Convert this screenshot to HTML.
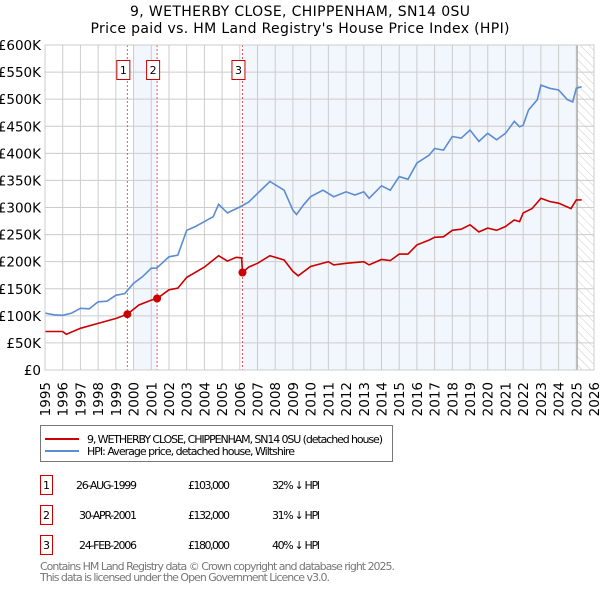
<!DOCTYPE html>
<html><head><meta charset="utf-8"><style>
body{margin:0;background:#fff;}
svg{display:block;font-family:"DejaVu Sans","Liberation Sans",sans-serif;}
</style></head><body>
<svg id="c" width="600" height="590" viewBox="0 0 600 590">
<text x="300" y="16" text-anchor="middle" font-size="14" textLength="340">9, WETHERBY CLOSE, CHIPPENHAM, SN14 0SU</text>
<text x="300" y="33" text-anchor="middle" font-size="14" textLength="419">Price paid vs. HM Land Registry's House Price Index (HPI)</text>
<defs><pattern id="hatch" width="6" height="6" patternUnits="userSpaceOnUse" patternTransform="rotate(-45)"><line x1="0" y1="0" x2="0" y2="6" stroke="#ccc" stroke-width="1"/></pattern></defs>
<g id="plot"></g>
<g>
<rect x="40.5" y="425.5" width="352" height="36" fill="#fff" stroke="#777"/>
<line x1="45" y1="439" x2="79" y2="439" stroke="#cc0000" stroke-width="2"/>
<text x="87" y="443" font-size="11" textLength="296">9, WETHERBY CLOSE, CHIPPENHAM, SN14 0SU (detached house)</text>
<line x1="45" y1="451" x2="79" y2="451" stroke="#5b8dd2" stroke-width="2"/>
<text x="87" y="455" font-size="11" textLength="208">HPI: Average price, detached house, Wiltshire</text>
</g>
<g font-size="11">
<rect x="40.5" y="475.5" width="12" height="19" fill="#fff" stroke="#cc0000"/><text x="46.5" y="489" text-anchor="middle">1</text>
<text x="76" y="489" textLength="61">26-AUG-1999</text><text x="188" y="489" textLength="42">£103,000</text><text x="272" y="489" textLength="48">32% ↓ HPI</text>
<rect x="40.5" y="505.5" width="12" height="19" fill="#fff" stroke="#cc0000"/><text x="46.5" y="519" text-anchor="middle">2</text>
<text x="79" y="519" textLength="58">30-APR-2001</text><text x="188" y="519" textLength="42">£132,000</text><text x="272" y="519" textLength="48">31% ↓ HPI</text>
<rect x="40.5" y="535.5" width="12" height="19" fill="#fff" stroke="#cc0000"/><text x="46.5" y="549" text-anchor="middle">3</text>
<text x="79" y="549" textLength="58">24-FEB-2006</text><text x="188" y="549" textLength="42">£180,000</text><text x="272" y="549" textLength="48">40% ↓ HPI</text>
</g>
<text x="40" y="570" font-size="11" fill="#777" textLength="355">Contains HM Land Registry data © Crown copyright and database right 2025.</text>
<text x="40" y="581" font-size="11" fill="#777" textLength="290">This data is licensed under the Open Government Licence v3.0.</text>
</svg>
<script>
const hpiYears=[1995,1995.5,1996,1996.5,1997,1997.5,1998,1998.5,1999,1999.5,2000,2000.5,2001,2001.3,2002,2002.5,2003,2003.5,2004,2004.5,2004.8,2005.3,2006,2006.5,2007,2007.7,2008.5,2009,2009.2,2009.6,2010,2010.7,2011.3,2012,2012.5,2013,2013.3,2014,2014.5,2015,2015.5,2016,2016.7,2017,2017.5,2018,2018.5,2019,2019.5,2020,2020.5,2021,2021.5,2021.8,2022,2022.3,2022.8,2023,2023.5,2024,2024.5,2024.8,2025,2025.3];
const hpiValues=[105,102,101,105,114,113,126,127,138,141,160,172,188,188,209,212,258,265,274,283,306,290,301,310,326,348,332,295,287,305,320,332,320,329,323,329,317,340,332,357,352,382,397,409,406,431,428,443,422,437,425,437,459,449,452,480,499,526,520,517,499,495,520,523];
const ppYears=[1995,1996,1996.2,1997,1998,1999,1999.65,2000.3,2001,2001.33,2002,2002.5,2003,2004,2004.8,2005.3,2005.8,2006.1,2006.15,2006.5,2007,2007.7,2008.5,2009,2009.3,2010,2011,2011.3,2012,2013,2013.3,2014,2014.5,2015,2015.5,2016,2016.7,2017,2017.5,2018,2018.5,2019,2019.5,2020,2020.5,2021,2021.5,2021.8,2022,2022.5,2023,2023.5,2024,2024.7,2025,2025.3];
const ppValues=[71,71,66,77,86,95,103,120,129,132,148,151,171,190,211,201,208,207,180,190,197,211,203,182,174,191,200,194,197,200,194,204,202,214,214,231,240,245,246,258,260,268,255,262,258,265,277,274,290,298,317,311,308,298,314,314];
const saleLabels=["1","2","3"];
const saleYears=[1999.65,2001.33,2006.15];
const saleValues=[103,132,180];
const yTicks=[0,50,100,150,200,250,300,350,400,450,500,550,600];
const yTickLabels=["£0","£50K","£100K","£150K","£200K","£250K","£300K","£350K","£400K","£450K","£500K","£550K","£600K"];
const xTicks=[1995,1996,1997,1998,1999,2000,2001,2002,2003,2004,2005,2006,2007,2008,2009,2010,2011,2012,2013,2014,2015,2016,2017,2018,2019,2020,2021,2022,2023,2024,2025,2026];
const X0=45,X1=594,Y0=370,Y1=45;
const sx=y=>X0+(y-1995)/(2026-1995)*(X1-X0);
const sy=v=>Y0-v/600*(Y0-Y1);
const NS="http://www.w3.org/2000/svg";
const g=document.getElementById('plot');
function mk(t,a,p){const e=document.createElementNS(NS,t);for(const k in a)e.setAttribute(k,a[k]);(p||g).appendChild(e);return e;}
let s1=mk('rect',{x:sx(2000),y:Y1,width:sx(saleYears[1])-sx(2000),height:Y0-Y1,fill:'#f2f6fd'});


let s2=mk('rect',{x:sx(saleYears[2]),y:Y1,width:sx(2025.05)-sx(saleYears[2]),height:Y0-Y1,fill:'#f2f6fd'});


let h=mk('rect',{x:sx(2025.05),y:Y1,width:X1-sx(2025.05),height:Y0-Y1,fill:'url(#hatch)'});


yTicks.forEach((v,i)=>{
  const l=mk('line',{x1:X0,x2:X1,y1:sy(v),y2:sy(v),stroke:'#ccc'});
  
  
  const t=mk('text',{x:X0-4,y:sy(v)+5,'text-anchor':'end','font-size':'13.5'});
  t.textContent=yTickLabels[i];
  
  
});
xTicks.forEach(y=>{
  const l=mk('line',{x1:sx(y),x2:sx(y),y1:Y1,y2:Y0,stroke:'#ccc'});
  
  
  const t=mk('text',{x:0,y:0,'text-anchor':'end','font-size':'13.5',transform:`translate(${sx(y)+5},382) rotate(-90)`});
  t.textContent=y;
  
  
});
let vl=mk('line',{x1:sx(2025.05),x2:sx(2025.05),y1:Y1,y2:Y0,stroke:'#999'});


saleYears.forEach((y,i)=>{
  const l=mk('line',{x1:sx(y),x2:sx(y),y1:Y1,y2:Y0,stroke:'#e55','stroke-dasharray':'2,2'});
  
  
  const r=mk('rect',{x:sx(y)-10.5,y:60.5,width:13,height:19,fill:'#fff',stroke:'#cc0000'});
  
  
  const t=mk('text',{x:sx(y)-4,y:74,'text-anchor':'middle','font-size':'11'});
  t.textContent=saleLabels[i];
  
  
});
const pts=(xs,vs)=>xs.map((y,i)=>sx(y).toFixed(1)+','+sy(vs[i]).toFixed(1)).join(' ');
let hp=mk('polyline',{points:pts(hpiYears,hpiValues),fill:'none',stroke:'#5b8dd2','stroke-width':1.6});


let pp=mk('polyline',{points:pts(ppYears,ppValues),fill:'none',stroke:'#cc0000','stroke-width':1.6});


saleYears.forEach((y,i)=>{
  const c=mk('circle',{cx:sx(y),cy:sy(saleValues[i]),r:4,fill:'#cc0000'});
  
  
});
let fr=mk('rect',{x:X0,y:Y1,width:X1-X0,height:Y0-Y1,fill:'none',stroke:'#ccc'});


</script>
</body></html>
